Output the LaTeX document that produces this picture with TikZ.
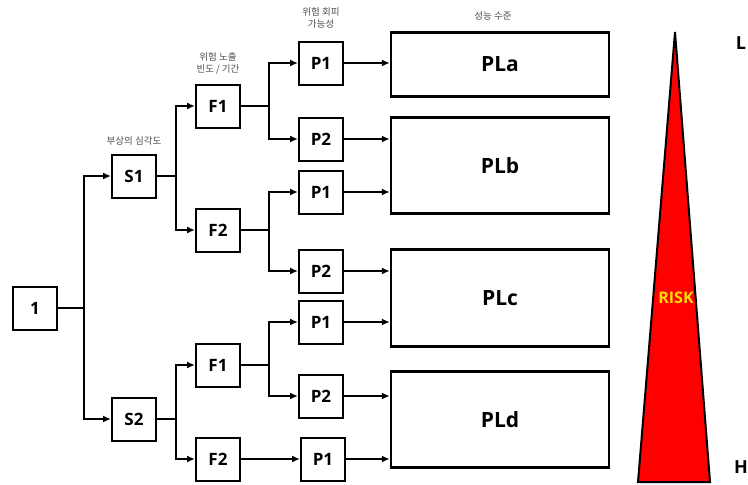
\documentclass[tikz,border=0pt]{standalone}
\usepackage{fontspec}
\setmainfont{Open Sans}
\newfontfamily\krfont{Noto Sans CJK KR}
\usetikzlibrary{arrows.meta}
\definecolor{riskyellow}{RGB}{255,221,0}

\begin{document}
\begin{tikzpicture}[x=1pt, y=-1pt,
  every node/.style = {inner sep=0pt, align=center},
  box/.style = {draw, line width=2pt, minimum width=44pt, minimum height=43pt, font=\fontsize{17}{17}\selectfont\bfseries},
  plbox/.style = {draw, line width=2.4pt, minimum width=218pt, font=\fontsize{21}{21}\selectfont\bfseries},
  note/.style = {font=\krfont\fontsize{9.5}{12}\selectfont, text=black!70},
  link/.style = {line width=2pt, -{Latex[length=8pt,width=7pt]}}]
  \useasboundingbox (0,0) rectangle (748,485);

  % first level
  \node[box] (one) at (35,308) {1};
  \node[box] (s1) at (134,176) {S1};
  \node[box] (s2) at (134,419) {S2};
  \node[note] at (134,141) {부상의 심각도};

  % exposure
  \node[box] (f11) at (218,106) {F1};
  \node[box] (f12) at (218,230) {F2};
  \node[box] (f21) at (218,365) {F1};
  \node[box] (f22) at (218,459) {F2};
  \node[note] at (218,63) {위험 노출\\빈도 / 기간};

  % avoidance
  \node[box] (pa1) at (321,63) {P1};
  \node[box] (pa2) at (321,139) {P2};
  \node[box] (pb1) at (321,192) {P1};
  \node[box] (pb2) at (321,271) {P2};
  \node[box] (pc1) at (321,322) {P1};
  \node[box] (pc2) at (321,396) {P2};
  \node[box] (pd1) at (323,459) {P1};
  \node[note] at (321,18) {위험 회피\\가능성};

  % performance levels
  \node[plbox, minimum height=64pt] (pla) at (500,64.5) {PLa};
  \node[plbox, minimum height=96pt] (plb) at (500,165.5) {PLb};
  \node[plbox, minimum height=97pt] (plc) at (500,298) {PLc};
  \node[plbox, minimum height=96pt] (pld) at (500,419.5) {PLd};
  \node[note] at (493,16) {성능 수준};

  % connectors
  \draw[link] (one.east) -- +(26,0) |- (s1.west);
  \draw[link] (one.east) -- +(26,0) |- (s2.west);
  \draw[link] (s1.east) -- +(19,0) |- (f11.west);
  \draw[link] (s1.east) -- +(19,0) |- (f12.west);
  \draw[link] (s2.east) -- +(19,0) |- (f21.west);
  \draw[link] (s2.east) -- +(19,0) |- (f22.west);
  \draw[link] (f11.east) -- +(28,0) |- (pa1.west);
  \draw[link] (f11.east) -- +(28,0) |- (pa2.west);
  \draw[link] (f12.east) -- +(28,0) |- (pb1.west);
  \draw[link] (f12.east) -- +(28,0) |- (pb2.west);
  \draw[link] (f21.east) -- +(28,0) |- (pc1.west);
  \draw[link] (f21.east) -- +(28,0) |- (pc2.west);
  \draw[link] (f22.east) -- (pd1.west);
  \draw[link] (pa1.east) -- (pa1.east -| pla.west);
  \draw[link] (pa2.east) -- (pa2.east -| plb.west);
  \draw[link] (pb1.east) -- (pb1.east -| plb.west);
  \draw[link] (pb2.east) -- (pb2.east -| plc.west);
  \draw[link] (pc1.east) -- (pc1.east -| plc.west);
  \draw[link] (pc2.east) -- (pc2.east -| pld.west);
  \draw[link] (pd1.east) -- (pd1.east -| pld.west);

  % risk wedge
  \draw[line width=2pt, fill=red, line join=miter] (675,32) -- (710,482) -- (638,482) -- cycle;
  \node[font=\fontsize{16}{16}\selectfont\bfseries, text=riskyellow] (risk) at (676,298) {RISK};
  \node[font=\fontsize{18}{18}\selectfont\bfseries] (low) at (741,43) {L};
  \node[font=\fontsize{18}{18}\selectfont\bfseries] (high) at (741,467) {H};
\end{tikzpicture}
\end{document}
